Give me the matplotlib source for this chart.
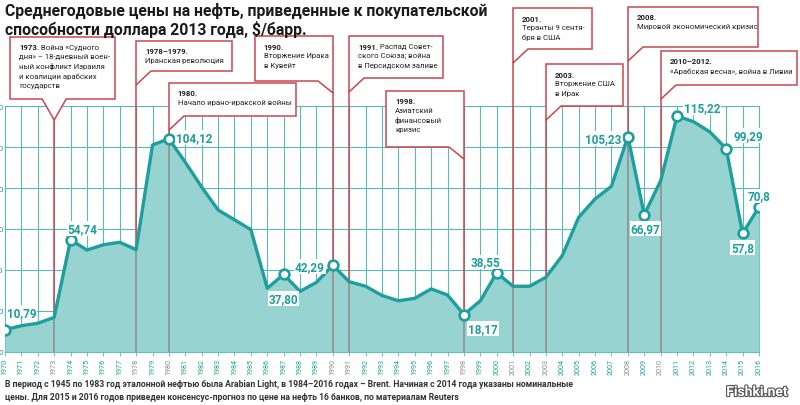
import numpy as np
import matplotlib.pyplot as plt
from matplotlib.patches import Polygon
import matplotlib.patheffects as pe

plt.rcParams['font.family'] = ['Roboto', 'DejaVu Sans']

# DATA
years = list(range(1970, 2017))
prices = [10.79, 12.7, 13.9, 16.8, 54.74, 49.7, 52.3, 53.5, 49.9, 101.1,
          104.12, 92.6, 80.5, 69.3, 64.5, 59.7, 31.0, 37.80, 29.5, 33.9,
          42.29, 34.2, 32.0, 27.5, 24.9, 26.1, 30.7, 27.7, 18.17, 24.9,
          38.55, 32.0, 32.0, 36.4, 47.0, 65.7, 74.7, 80.9, 105.23, 66.97,
          83.6, 115.22, 112.5, 107.5, 99.29, 57.8, 70.8]
y_ticks = [0, 20, 40, 60, 80, 100, 120]

label_years = [1970, 1974, 1980, 1987, 1990, 1998, 2000, 2008, 2009, 2011, 2014, 2015, 2016]
label_texts = ['10,79', '54,74', '104,12', '37,80', '42,29', '18,17', '38,55',
               '105,23', '66,97', '115,22', '99,29', '57,8', '70,8']

event_years = [1973, 1978, 1980, 1990, 1991, 1998, 2001, 2003, 2008, 2010]
event_heads = ['1973.', '1978–1979.', '1980.', '1990.', '1991.', '1998.',
               '2001.', '2003.', '2008.', '2010–2012.']
event_inline = [' Война «Судного', '', '', '', ' Распад Совет-', '', '', '', '', '']
event_lines = [
    ['дня» – 18-дневный воен-', 'ный конфликт Израиля', 'и коалиции арабских', 'государств'],
    ['Иранская революция'],
    ['Начало ирано-иракской войны'],
    ['Вторжение Ирака', 'в Кувейт'],
    ['ского Союза; война', 'в Персидском заливе'],
    ['Азиатский', 'финансовый', 'кризис'],
    ['Теранты 9 сентя-', 'бря в США'],
    ['Вторжение США', 'в Ирак'],
    ['Мировой экономический кризис'],
    ['«Арабская весна», война в Ливии'],
]

title = ('Среднегодовые цены на нефть, приведенные к покупательской\n'
         'способности доллара 2013 года, $/барр.')
footer = ('В период с 1945 по 1983 год эталонной нефтью была Arabian Light, в 1984–2016 годах – Brent. '
          'Начиная с 2014 года указаны номинальные\n'
          'цены. Для 2015 и 2016 годов приведен консенсус-прогноз по цене на нефть 16 банков, по материалам Reuters')

# STYLE
teal = '#1e9e9e'
fill_c = '#97d4d1'
grid_c = '#5db8b8'
red = '#c9474f'
grey_line = '#8e8a86'
W, H = 800, 406

fig = plt.figure(figsize=(8, 4.06), dpi=100)
ax = fig.add_axes([5 / W, 53.3 / H, 754 / W, 245.4 / H])
ax.set_xlim(1970, 2016)
ax.set_ylim(0, 120)
ax.set_xticks(years)
ax.set_xticklabels([str(y) for y in years], rotation=90)
ax.set_yticks(y_ticks)
ax.tick_params(axis='x', length=3, width=0.6, color=grid_c, pad=1.5,
               labelsize=5.2, labelcolor=teal)
ax.tick_params(axis='y', length=0, pad=1, labelsize=6, labelcolor=teal)
for lbl in ax.get_xticklabels():
    if int(lbl.get_text()) in event_years:
        lbl.set_color(grey_line)
ax.grid(True, color=grid_c, lw=0.8)
ax.set_axisbelow(True)
for gl in ax.get_xgridlines() + ax.get_ygridlines():
    gl.set_clip_on(False)
for s in ax.spines.values():
    s.set_visible(False)

ax.fill_between(years, prices, 0, color=fill_c, lw=0, zorder=2)
ax.plot(years, prices, color=teal, lw=2.4, zorder=4, solid_joinstyle='round')

# event lines inside the fill
event_vals = [prices[years.index(y)] for y in event_years]
ax.vlines(event_years, 0, event_vals, color=grey_line, lw=1.1, zorder=3)

# labelled points
lab_vals = [prices[years.index(y)] for y in label_years]
ax.plot(label_years, lab_vals, 'o', ms=7, mfc='white', mec=teal, mew=1.9, zorder=5)
offsets = [(2, 17, 'left'), (12, 11, 'center'), (7, 1, 'left'), (0, -24, 'center'),
           (-8, -1, 'right'), (4, -14, 'left'), (-11, 11, 'center'), (-6, -2, 'right'),
           (1, -14, 'center'), (7, 8, 'left'), (22, 13, 'center'), (0, -14, 'center'),
           (0, 11, 'center')]
for yr, v, t, (dx, dy, ha) in zip(label_years, lab_vals, label_texts, offsets):
    ax.annotate(t, (yr, v), xytext=(dx, dy), textcoords='offset pixels',
                ha=ha, va='center', fontsize=8.5, weight='bold', color=teal, zorder=6,
                bbox=dict(facecolor='white', edgecolor='none', pad=0.6))

# overlay in pixel coordinates for callouts and texts
ov = fig.add_axes([0, 0, 1, 1], zorder=5)
ov.set_xlim(0, W)
ov.set_ylim(H, 0)
ov.axis('off')
ov.patch.set_visible(False)

# callout layout: (side, width or (L, R), top, bottom)
layout = [
    ('notch', (10, 115), 38, 100),
    ('left', 96, 42, 72),
    ('left', 127, 84, 117),
    ('right', 78, 37, 82),
    ('left', 94, 37, 79),
    ('right', 78, 92, 148),
    ('left', 79, 9, 50),
    ('left', 77, 65, 107),
    ('left', 130, 8, 48),
    ('left', 136, 52, 86),
]
inv = ax.transData.inverted()
for yr, v, head, inl, lines, (side, wd, t, b) in zip(event_years, event_vals, event_heads,
                                                     event_inline, event_lines, layout):
    lx = ax.transData.transform((yr, 0))[0]
    if side == 'notch':
        L, R = wd
        tail_y = b + 21
        pts = [(L, t), (R, t), (R, b), (lx + 12, b), (lx, tail_y), (lx - 12, b), (L, b)]
    elif side == 'left':
        L, R = lx, lx + wd
        tail_y = b + 14
        pts = [(L, tail_y), (L, t), (R, t), (R, b), (L + 15, b)]
    else:
        L, R = lx - wd, lx
        tail_y = b + 12
        pts = [(R, tail_y), (R, t), (L, t), (L, b), (R - 15, b)]
    ov.add_patch(Polygon(pts, closed=True, facecolor='white', edgecolor=red, lw=1.1))
    # red part of event line, from tail to the curve
    ty = inv.transform((0, H - tail_y))[1]
    ax.plot([yr, yr], [ty, v], color=red, lw=1.1, zorder=3, clip_on=False)
    tx = L + 9
    h = ov.text(tx, t + 10, head, fontsize=5.6, weight='bold', color='#222222',
                va='center', ha='left')
    if inl:
        ov.annotate(inl, xy=(1, 0.5), xycoords=h, fontsize=5.6, color='#222222',
                    va='center', ha='left')
    for i, ln in enumerate(lines):
        ov.text(tx, t + 10 + 9.4 * (i + 1), ln, fontsize=5.6, color='#222222',
                va='center', ha='left')

ov.text(5, 3, title, fontsize=11.3, weight='bold', color='#1a1a1a', va='top', ha='left',
        linespacing=1.12)
ov.text(5, 380, footer, fontsize=6.2, weight='bold', color='#333333', va='top', ha='left',
        linespacing=1.6)
ov.text(757, 393, 'Fishki.net', fontsize=10, weight='bold', color='white', ha='center',
        va='center', path_effects=[pe.withStroke(linewidth=1.6, foreground='#555555')])

fig.savefig('out.png', dpi=100)
